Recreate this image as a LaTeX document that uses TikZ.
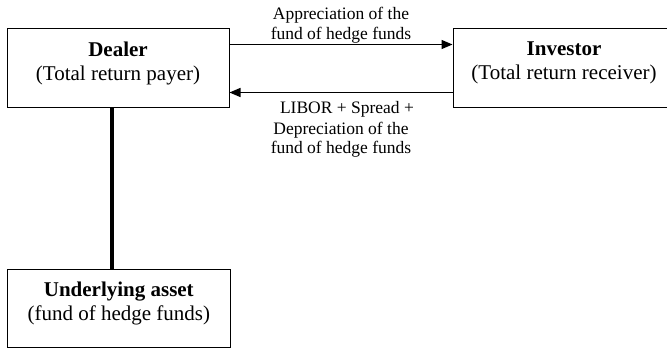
\documentclass[tikz,border=0pt]{standalone}
\usepackage{fontspec}
\setmainfont{Liberation Serif}
\usetikzlibrary{arrows.meta}
\begin{document}
\begin{tikzpicture}[x=1pt,y=-1pt,
 box/.style={draw, line width=1pt, minimum width=222pt, minimum height=79pt, inner sep=0pt},
 boxtext/.style={align=center, font=\fontsize{21}{24}\selectfont, anchor=base, inner sep=0pt},
 lbl/.style={align=center, font=\fontsize{17.5}{20}\selectfont, anchor=base, inner sep=0pt},
 arr/.style={line width=1.3pt, -{Triangle[length=11pt,width=9pt]}},
 stem/.style={line width=4pt}]
\useasboundingbox (0,0) rectangle (667,350);
\clip (0,0) rectangle (667,350);
\node[box] (dealer) at (118,68.5) {};
\node[box] (investor) at (564,68.5) {};
\node[box, minimum width=223pt, minimum height=78pt] (asset) at (118.5,308) {};
\node[boxtext] (dealertxt) at (118,80.7) {\textbf{Dealer}\\(Total return payer)};
\node[boxtext] (investortxt) at (564,80) {\textbf{Investor}\\(Total return receiver)};
\node[boxtext] (assettxt) at (118.8,320) {\textbf{Underlying asset}\\(fund of hedge funds)};
\draw[arr] ([yshift=24pt]dealer.east) -- ([yshift=24pt]investor.west);
\draw[arr] ([yshift=-24pt]investor.west) -- ([yshift=-24pt]dealer.east);
\draw[stem] ([xshift=-6pt]dealer.south) -- ([xshift=-6.5pt]asset.north);
\node[lbl] (toplbl) at (341,40) {Appreciation of the\\fund of hedge funds};
\node[lbl] (botlbl) at (341,154) {\hspace{12pt}LIBOR + Spread +\\Depreciation of the\\fund of hedge funds};
\end{tikzpicture}
\end{document}
